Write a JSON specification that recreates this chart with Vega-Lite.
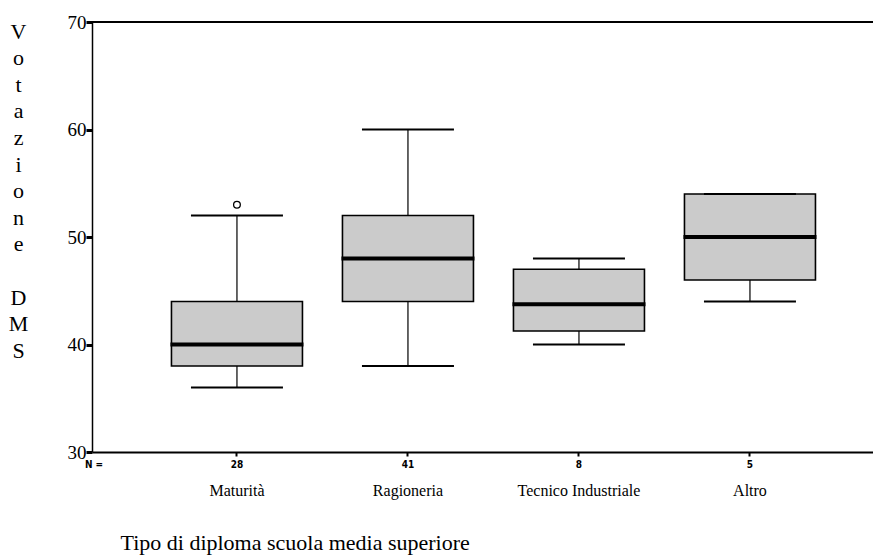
{
  "$schema": "https://vega.github.io/schema/vega-lite/v6.json",
  "autosize": {"type": "none"},
  "width": 781,
  "height": 430,
  "padding": {"left": 92, "top": 22, "right": 0, "bottom": 106},
  "background": "white",
  "config": {
    "view": {"stroke": null},
    "axis": {
      "labelFont": "Liberation Serif", "labelFontSize": 16, "labelColor": "black",
      "tickColor": "black", "domainColor": "black", "grid": false,
      "titleFont": "Liberation Serif", "titleFontWeight": "normal", "titleColor": "black"
    },
    "axisX": {
      "labelAngle": 0, "labelPadding": 26, "tickSize": 4, "tickWidth": 2, "domainWidth": 2,
      "titleFontSize": 22, "titleAnchor": "start", "titleAlign": "left", "titleBaseline": "alphabetic", "titleX": 28, "titleY": 97
    },
    "axisY": {
      "labelFontSize": 19, "labelPadding": 0, "tickSize": 6, "tickWidth": 3, "domainWidth": 1.5,
      "titleFontSize": 22, "titleAngle": 0, "titleAlign": "center", "titleBaseline": "alphabetic", "titleLineHeight": 26.6,
      "titleX": -74, "titleY": 16
    }
  },
  "datasets": {
    "stats": [
      {"diploma": "Maturità", "n": "28", "lower": 36, "q1": 38, "median": 40, "q3": 44, "upper": 52},
      {"diploma": "Ragioneria", "n": "41", "lower": 38, "q1": 44, "median": 48, "q3": 52, "upper": 60},
      {"diploma": "Tecnico Industriale", "n": "8", "lower": 40, "q1": 41.25, "median": 43.75, "q3": 47, "upper": 48},
      {"diploma": "Altro", "n": "5", "lower": 44, "q1": 46, "median": 50, "q3": 54, "upper": 54}
    ],
    "outliers": [
      {"diploma": "Maturità", "value": 53}
    ],
    "nlabel": [
      {"diploma": "Maturità", "label": "N ="}
    ]
  },
  "layer": [
    {
      "data": {"name": "stats"},
      "mark": {"type": "rule", "color": "black", "strokeWidth": 1.2},
      "encoding": {
        "x": {
          "field": "diploma", "type": "nominal", "sort": null,
          "scale": {"domain": ["Maturità", "Ragioneria", "Tecnico Industriale", "Altro"], "paddingInner": 0, "paddingOuter": 0.2836, "align": 0.613},
          "axis": {"orient": "bottom", "title": "Tipo di diploma scuola media superiore"}
        },
        "y": {
          "field": "lower", "type": "quantitative",
          "scale": {"domain": [30, 70], "nice": false, "zero": false},
          "axis": {
            "values": [30, 40, 50, 60, 70],
            "labelFont": "Liberation Serif", "labelFontSize": 19, "tickSize": 6, "tickWidth": 3,
            "title": ["V", "o", "t", "a", "z", "i", "o", "n", "e", "\u2800", "D", "M", "S"]
          }
        },
        "y2": {"field": "upper"}
      }
    },
    {
      "data": {"values": [{"top": 70}]},
      "mark": {"type": "rule", "color": "black", "strokeWidth": 2},
      "encoding": {
        "y": {"field": "top", "type": "quantitative"}
      }
    },
    {
      "data": {"name": "stats"},
      "mark": {"type": "bar", "width": 131, "fill": "#cbcbcb", "stroke": "black", "strokeWidth": 1.6},
      "encoding": {
        "x": {"field": "diploma", "type": "nominal", "sort": null},
        "y": {"field": "q1", "type": "quantitative"},
        "y2": {"field": "q3"}
      }
    },
    {
      "data": {"name": "stats"},
      "mark": {"type": "tick", "size": 133, "thickness": 4, "color": "black", "opacity": 1},
      "encoding": {
        "x": {"field": "diploma", "type": "nominal", "sort": null},
        "y": {"field": "median", "type": "quantitative"}
      }
    },
    {
      "data": {"name": "stats"},
      "mark": {"type": "tick", "size": 92, "thickness": 1.8, "color": "black", "opacity": 1},
      "encoding": {
        "x": {"field": "diploma", "type": "nominal", "sort": null},
        "y": {"field": "lower", "type": "quantitative"}
      }
    },
    {
      "data": {"name": "stats"},
      "mark": {"type": "tick", "size": 92, "thickness": 1.8, "color": "black", "opacity": 1},
      "encoding": {
        "x": {"field": "diploma", "type": "nominal", "sort": null},
        "y": {"field": "upper", "type": "quantitative"}
      }
    },
    {
      "data": {"name": "outliers"},
      "mark": {"type": "point", "shape": "circle", "size": 45, "filled": false, "stroke": "black", "strokeWidth": 1.3, "opacity": 1},
      "encoding": {
        "x": {"field": "diploma", "type": "nominal", "sort": null},
        "y": {"field": "value", "type": "quantitative"}
      }
    },
    {
      "data": {"name": "stats"},
      "mark": {"type": "text", "baseline": "top", "dy": 8, "font": "DejaVu Sans Condensed", "fontWeight": "bold", "fontSize": 10, "color": "black"},
      "encoding": {
        "x": {"field": "diploma", "type": "nominal", "sort": null},
        "y": {"datum": 30, "type": "quantitative"},
        "text": {"field": "n"}
      }
    },
    {
      "data": {"name": "nlabel"},
      "mark": {"type": "text", "baseline": "top", "align": "left", "dy": 8, "dx": -152, "font": "DejaVu Sans Condensed", "fontWeight": "bold", "fontSize": 10, "color": "black"},
      "encoding": {
        "x": {"field": "diploma", "type": "nominal", "sort": null},
        "y": {"datum": 30, "type": "quantitative"},
        "text": {"field": "label"}
      }
    }
  ]
}
